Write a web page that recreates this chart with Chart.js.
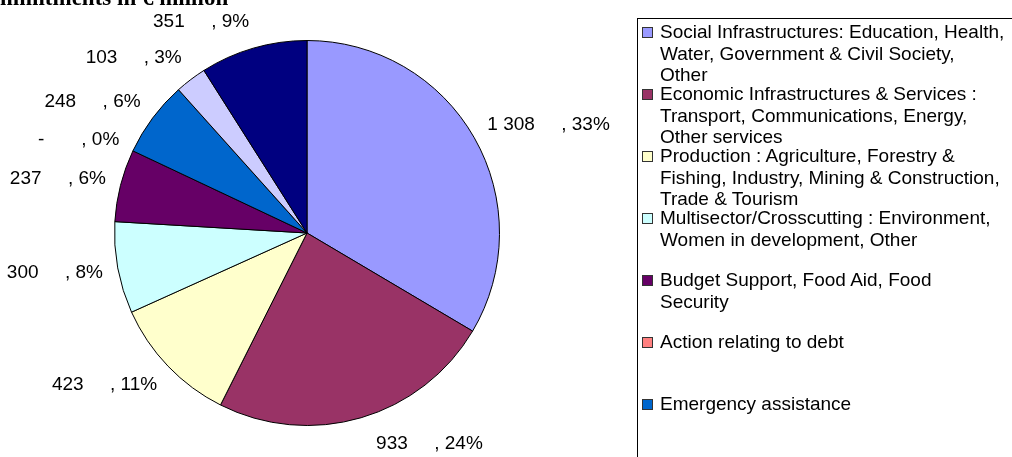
<!DOCTYPE html>
<html><head><meta charset="utf-8">
<script src="https://cdn.jsdelivr.net/npm/chart.js@4"></script>
<style>
html,body{margin:0;padding:0;width:1012px;height:457px;overflow:hidden;background:#fff;}
#wrap{position:relative;width:1012px;height:457px;overflow:hidden;}
canvas{position:absolute;left:0;top:0;}
#title{position:absolute;left:-28px;top:-14px;font:bold 23px "Liberation Serif","Times New Roman",serif;line-height:23px;white-space:nowrap;color:#000;}
#legend{position:absolute;left:637px;top:18px;width:420px;height:560px;border:1px solid #000;box-sizing:border-box;font:19px "Liberation Sans",Arial,sans-serif;color:#000;}
.sw{position:absolute;left:4px;width:11px;height:11px;box-sizing:border-box;border:1px solid #333;}
.txt{position:absolute;left:22px;line-height:21.5px;white-space:nowrap;}
</style></head>
<body>
<div id="wrap">
<canvas id="c" width="1012" height="457"></canvas>
<div id="title">Commitments in € million</div>
<div id="legend"></div>
</div>
<script>
// ---- data ----
const categories = [
  ["Social Infrastructures: Education, Health,", "Water, Government & Civil Society,", "Other"],
  ["Economic Infrastructures & Services :", "Transport, Communications, Energy,", "Other services"],
  ["Production : Agriculture, Forestry &", "Fishing, Industry, Mining & Construction,", "Trade & Tourism"],
  ["Multisector/Crosscutting : Environment,", "Women in development, Other"],
  ["Budget Support, Food Aid, Food", "Security"],
  ["Action relating to debt"],
  ["Emergency assistance"],
  ["Support to NGOs"],
  ["Administrative costs"]
];
const values = [1308, 933, 423, 300, 237, 0, 248, 103, 351];
const shares = ["33%", "24%", "11%", "8%", "6%", "0%", "6%", "3%", "9%"];
const colors = ["#9999FF", "#993366", "#FFFFCC", "#CCFFFF", "#660066", "#FF8080", "#0066CC", "#CCCCFF", "#000080"];

// ---- legend (HTML) ----
const legend = document.getElementById('legend');
categories.forEach((lines, i) => {
  const cy = 13 + i * 62;
  const sw = document.createElement('div');
  sw.className = 'sw';
  sw.style.top = (cy - 5.5) + 'px';
  sw.style.background = colors[i];
  legend.appendChild(sw);
  const t = document.createElement('div');
  t.className = 'txt';
  t.style.top = (cy - 10.75) + 'px';
  t.innerHTML = lines.map(s => s.replace(/&/g, '&amp;')).join('<br>');
  legend.appendChild(t);
});

function fmt(n) {
  if (n === 0) return '-\u2007     ';
  return String(n).replace(/\B(?=(\d{3})+(?!\d))/g, ' ') + '     ';
}

const labelPlugin = {
  id: 'sliceLabels',
  afterDatasetsDraw(chart) {
    const ctx = chart.ctx;
    const meta = chart.getDatasetMeta(0);
    ctx.save();
    ctx.font = '19px "Liberation Sans", Arial, sans-serif';
    ctx.fillStyle = '#000';
    ctx.textBaseline = 'middle';
    meta.data.forEach((arc, i) => {
      const p = arc.getProps(['x', 'y', 'startAngle', 'endAngle', 'outerRadius'], true);
      const mid = (p.startAngle + p.endAngle) / 2;
      const dx = Math.cos(mid), dy = Math.sin(mid);
      const r = p.outerRadius + 15;
      const x = p.x + r * dx + (dx >= 0 && dy > 0 ? dx * dy * 40 : 0);
      const y = p.y + r * dy + dy * 12;
      ctx.textAlign = dx >= 0 ? 'left' : 'right';
      ctx.fillText(fmt(values[i]) + ', ' + shares[i], x, y);
    });
    ctx.restore();
  }
};

new Chart(document.getElementById('c'), {
  type: 'pie',
  data: {
    labels: categories.map(l => l.join(' ')),
    datasets: [{
      data: values,
      backgroundColor: colors,
      borderColor: '#000',
      borderWidth: 1
    }]
  },
  options: {
    responsive: false,
    animation: false,
    layout: { padding: { left: 114, right: 512, top: 40, bottom: 31 } },
    plugins: { legend: { display: false }, tooltip: { enabled: false }, title: { display: false } }
  },
  plugins: [labelPlugin]
});
</script>
</body></html>
